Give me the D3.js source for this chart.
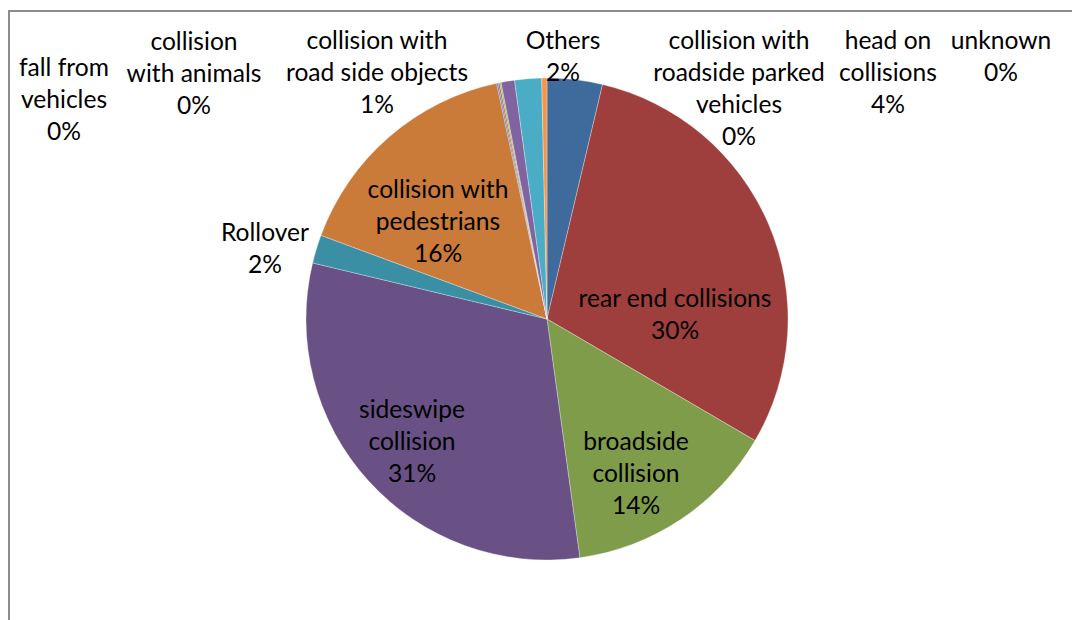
<!DOCTYPE html>
<html>
<head>
<meta charset="utf-8">
<script src="https://cdn.jsdelivr.net/npm/d3@7"></script>
<style>
  html, body { margin: 0; padding: 0; background: #fff; }
  svg { display: block; }
</style>
</head>
<body>
<svg id="chart" width="1072" height="620"></svg>
<script>
// ---- data ----
const categories = [
  "head on collisions", "rear end collisions", "broadside collision",
  "sideswipe collision", "Rollover", "collision with pedestrians",
  "fall from vehicles", "collision with animals", "unknown",
  "collision with road side objects", "Others", "collision with roadside parked vehicles"
];
const values = [3.7, 29.7, 14.4, 30.9, 1.9, 16.0, 0.1, 0.1, 0.1, 0.9, 1.8, 0.35];
const labelText = [
  ["head on", "collisions", "4%"],
  ["rear end collisions", "30%"],
  ["broadside", "collision", "14%"],
  ["sideswipe", "collision", "31%"],
  ["Rollover", "2%"],
  ["collision with", "pedestrians", "16%"],
  ["fall from", "vehicles", "0%"],
  ["collision", "with animals", "0%"],
  ["unknown", "0%"],
  ["collision with", "road side objects", "1%"],
  ["Others", "2%"],
  ["collision with", "roadside parked", "vehicles", "0%"]
];

// ---- layout / style ----
const colors = ["#3f6a9c", "#9e3f3e", "#7f9c4a", "#695186", "#3a8fa4", "#cb7b39",
                "#4f81bd", "#c0504d", "#9bbb59", "#8064a2", "#4bacc6", "#f79646"];
// label block centre (x) and first-line centre (y)
const labelPos = [
  [888, 39], [675, 297], [636, 440], [412, 408], [265, 231], [438, 188],
  [64, 66], [194, 40], [1001, 39], [377, 39], [563, 39], [739, 39]
];
const cx = 547, cy = 319, R = 241, lineH = 32;

const svg = d3.select("#chart");
// chart border
svg.append("rect")
  .attr("x", 9).attr("y", 11).attr("width", 1100).attr("height", 700)
  .attr("fill", "none").attr("stroke", "#8c8c8c").attr("stroke-width", 2);

const data = categories.map((c, i) => ({ name: c, value: values[i], i }));
const pie = d3.pie().value(d => d.value).sort(null);
const arc = d3.arc().innerRadius(0).outerRadius(R);

const g = svg.append("g").attr("transform", `translate(${cx},${cy})`);
g.selectAll("path").data(pie(data)).join("path")
  .attr("d", arc)
  .attr("fill", d => colors[d.data.i])
  .attr("stroke", "#ffffff").attr("stroke-width", 0.5).attr("stroke-opacity", 0.6);

const lab = svg.append("g")
  .attr("font-family", "Lato, 'Open Sans', sans-serif")
  .attr("font-size", 24.6).attr("fill", "#000").attr("text-anchor", "middle");
data.forEach(d => {
  const [x, y] = labelPos[d.i];
  const t = lab.append("text").attr("x", x).attr("y", y).attr("dominant-baseline", "central");
  labelText[d.i].forEach((line, k) => {
    t.append("tspan").attr("x", x).attr("y", y + k * lineH).text(line);
  });
});
</script>
</body>
</html>
